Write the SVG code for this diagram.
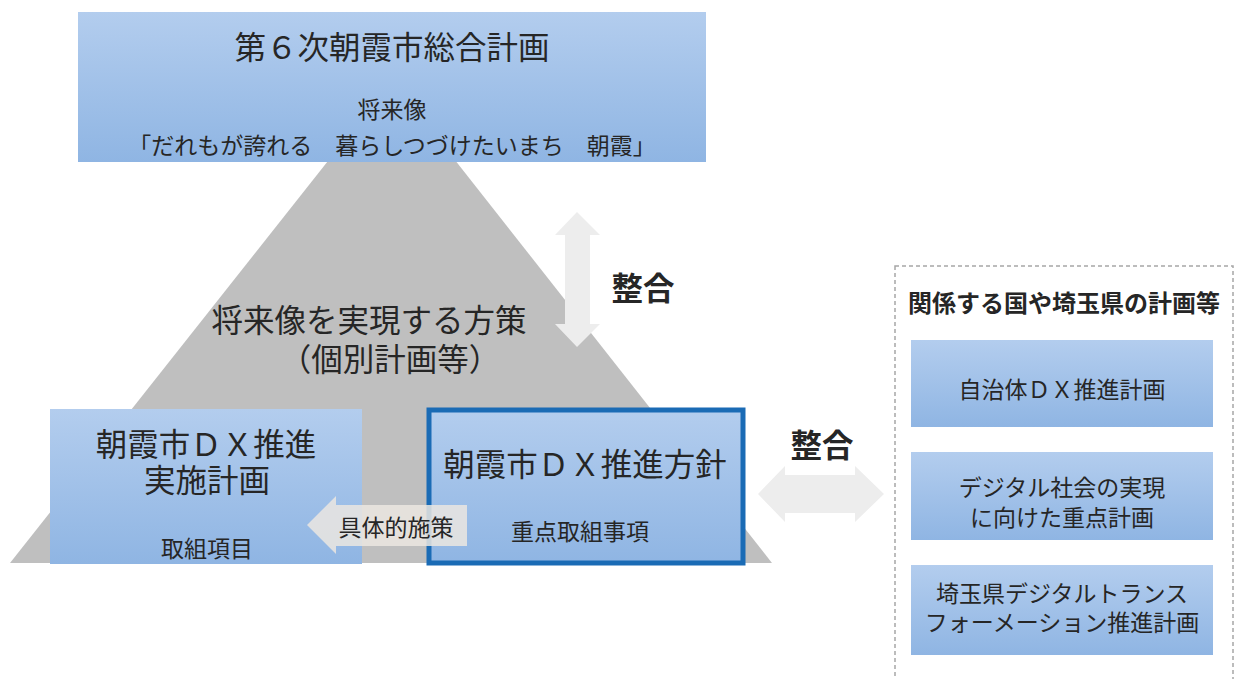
<svg xmlns="http://www.w3.org/2000/svg" width="1236" height="679" viewBox="0 0 1236 679">
<defs>
<linearGradient id="blueGrad" x1="0" y1="0" x2="0" y2="1">
<stop offset="0" stop-color="#b3cdee"/>
<stop offset="1" stop-color="#8fb5e3"/>
</linearGradient>
<style>
text{font-family:"Noto Sans CJK JP","Noto Sans CJK SC",sans-serif;fill:#262626;text-anchor:middle;dominant-baseline:central}
.big{font-size:31.5px}
.mid{font-size:23px}
.box{fill:url(#blueGrad)}
.arrow{fill:#ededed}
</style>
</defs>
<rect width="1236" height="679" fill="#ffffff"/>
<g id="pyramid">
<polygon points="392,80 10,563 772,563" fill="#bfbfbf"/>
</g>
<g id="top-plan">
<rect class="box" x="78" y="12" width="628" height="150"/>
<text class="big" x="392" y="45">第６次朝霞市総合計画</text>
<text class="mid"><tspan x="392" y="108">将来像</tspan><tspan x="392" y="144">「だれもが誇れる　暮らしつづけたいまち　朝霞」</tspan></text>
</g>
<g id="measures">
<text class="big"><tspan x="369" y="318">将来像を実現する方策</tspan><tspan x="390" y="357">（個別計画等）</tspan></text>
</g>
<g id="connectors">
<polygon class="arrow" points="577,212 600,235 590,235 590,324 600,324 577,347 555,324 565,324 565,235 555,235"/>
<text class="big" x="643" y="286" style="font-weight:bold">整合</text>
<polygon class="arrow" points="758,494 785,466 785,475 855,475 855,466 884,494 855,522 855,513 785,513 785,522"/>
<text class="big" x="822" y="443" style="font-weight:bold">整合</text>
</g>
<g id="dx-plan">
<rect class="box" x="50" y="409" width="312" height="155"/>
<text class="big"><tspan x="206" y="442">朝霞市ＤＸ推進</tspan><tspan x="207" y="478">実施計画</tspan></text>
<text class="mid" x="207" y="547">取組項目</text>
</g>
<g id="dx-policy">
<rect class="box" x="429" y="410" width="314" height="153" stroke="#1a6bb5" stroke-width="5"/>
<text class="big" x="585" y="462">朝霞市ＤＸ推進方針</text>
<text class="mid" x="580" y="530">重点取組事項</text>
</g>
<g id="measures-arrow">
<polygon points="307,525 336,496 336,505 467,505 467,546 336,546 336,554" fill="#ebe6e0" opacity="0.85"/>
<text class="mid" x="396" y="526">具体的施策</text>
</g>
<g id="related-plans">
<rect x="895" y="266" width="338" height="420" fill="#ffffff" stroke="#a6a6a6" stroke-width="1.5" stroke-dasharray="4,3"/>
<text x="1064" y="301" style="font-size:24px;font-weight:bold">関係する国や埼玉県の計画等</text>
</g>
<g id="plan-1">
<rect class="box" x="911" y="340" width="302" height="87"/>
<text class="mid" x="1062" y="388">自治体ＤＸ推進計画</text>
</g>
<g id="plan-2">
<rect class="box" x="911" y="452" width="302" height="88"/>
<text class="mid"><tspan x="1062" y="486">デジタル社会の実現</tspan><tspan x="1062" y="516">に向けた重点計画</tspan></text>
</g>
<g id="plan-3">
<rect class="box" x="911" y="565" width="302" height="90"/>
<text class="mid"><tspan x="1062" y="592">埼玉県デジタルトランス</tspan><tspan x="1062" y="621">フォーメーション推進計画</tspan></text>
</g>
</svg>
